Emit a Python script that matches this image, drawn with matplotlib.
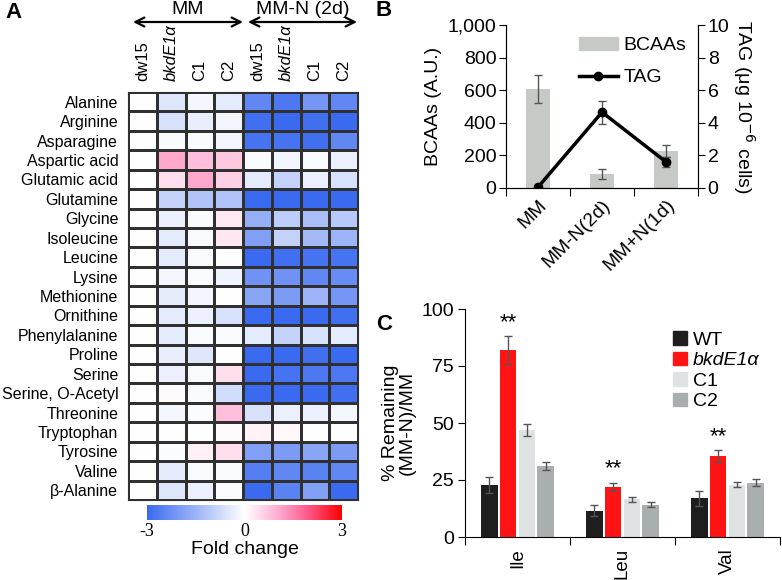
import numpy as np
import matplotlib.pyplot as plt
from matplotlib.colors import LinearSegmentedColormap
from matplotlib.patches import Patch
from matplotlib.lines import Line2D

plt.rcParams['font.family'] = ['Liberation Sans', 'DejaVu Sans']
plt.rcParams['font.size'] = 14

# ---- data ----
amino_acids = ['Alanine', 'Arginine', 'Asparagine', 'Aspartic acid', 'Glutamic acid',
               'Glutamine', 'Glycine', 'Isoleucine', 'Leucine', 'Lysine', 'Methionine',
               'Ornithine', 'Phenylalanine', 'Proline', 'Serine', 'Serine, O-Acetyl',
               'Threonine', 'Tryptophan', 'Tyrosine', 'Valine', 'β-Alanine']
strains = ['dw15', 'bkdE1α', 'C1', 'C2', 'dw15', 'bkdE1α', 'C1', 'C2']
# fold change, MM (4 cols) then MM-N 2d (4 cols)
fold_change = [
    [0, -0.5, -0.15, -0.4, -2.4, -2.7, -2.1, -2.4],
    [0, -0.6, -0.35, -0.2, -2.9, -3.0, -2.9, -3.0],
    [0, -0.1, -0.1, -0.2, -2.8, -2.8, -2.9, -2.4],
    [0, 1.1, 0.8, 0.7, -0.1, -0.2, -0.1, -0.3],
    [0, 0.4, 1.1, 0.6, -0.4, -0.9, -0.3, -0.6],
    [0, -0.9, -1.2, -1.2, -3.0, -3.0, -3.0, -3.0],
    [0, -0.3, -0.1, 0.3, -1.6, -1.0, -1.3, -1.1],
    [0, -0.4, -0.1, 0.3, -1.9, -0.9, -1.4, -1.5],
    [0, -0.4, -0.1, 0.0, -3.0, -2.9, -2.8, -2.8],
    [0, -0.15, -0.1, -0.25, -2.2, -2.2, -2.4, -2.3],
    [0, -0.4, -0.2, 0.0, -1.8, -2.0, -1.5, -2.1],
    [0, -0.4, -0.3, -0.6, -3.0, -3.0, -3.0, -2.9],
    [0, -0.4, -0.1, -0.1, -0.4, -0.9, -0.6, -0.4],
    [0, -0.35, -0.5, 0.0, -3.0, -3.0, -2.9, -3.0],
    [0, -0.3, -0.1, 0.4, -3.0, -2.8, -2.7, -2.7],
    [0, 0.05, -0.1, -0.7, -3.0, -3.0, -3.0, -2.9],
    [0, -0.15, -0.05, 0.8, -0.6, -0.3, -0.3, -0.15],
    [0, 0.0, 0.0, 0.05, 0.15, 0.1, 0.0, 0.0],
    [0, -0.05, 0.2, 0.4, -1.9, -2.0, -1.8, -2.0],
    [0, -0.4, -0.1, -0.1, -2.6, -2.4, -2.5, -2.4],
    [0, -0.5, -0.3, -0.05, -3.0, -2.5, -1.9, -3.0],
]

conditions = ['MM', 'MM-N(2d)', 'MM+N(1d)']
bcaa = [608, 88, 228]
bcaa_err = [88, 30, 37]
tag = [0.05, 4.65, 1.6]
tag_err = [0.0, 0.7, 0.3]

amino_c = ['Ile', 'Leu', 'Val']
lines_c = ['WT', 'bkdE1α', 'C1', 'C2']
remaining = {
    'WT': [23, 11.5, 17],
    'bkdE1α': [82, 22, 35.5],
    'C1': [47, 16.5, 23],
    'C2': [31, 14.2, 23.8],
}
remaining_err = {
    'WT': [3.5, 2.5, 3.2],
    'bkdE1α': [6, 1.8, 2.5],
    'C1': [2.5, 1.2, 1.0],
    'C2': [1.8, 1.0, 1.5],
}
signif = [True, True, True]

W, H = 782, 580
fig = plt.figure(figsize=(W / 100, H / 100), dpi=100)


def px_axes(x0, y0, x1, y1):
    # pixel box (top-left origin) -> figure axes
    return fig.add_axes([x0 / W, 1 - y1 / H, (x1 - x0) / W, (y1 - y0) / H])


# ---- A: heatmap ----
cmap = LinearSegmentedColormap.from_list(
    'fc', [(0, '#3a6af0'), (0.5, '#ffffff'), (0.66, '#ffb3d6'), (0.82, '#ff5c8f'), (1, '#ff0000')])
ax_a = px_axes(128, 92, 358, 500)
data = np.array(fold_change)
mesh = ax_a.pcolormesh(data, cmap=cmap, vmin=-3, vmax=3, edgecolors='#303030', linewidth=1)
ax_a.set_xlim(0, len(strains))
ax_a.set_ylim(len(amino_acids), 0)
ax_a.set_yticks(np.arange(len(amino_acids)) + 0.5)
ax_a.set_yticklabels(amino_acids, fontsize=11.5)
ax_a.set_xticks([])
ax_a.tick_params(axis='y', length=0, pad=7)
for s in ax_a.spines.values():
    s.set_color('#303030')
for i, name in enumerate(strains):
    style = 'italic' if name.startswith('bkd') else 'normal'
    ax_a.text(i + 0.5, -0.55, name, rotation=90, ha='center', va='bottom',
              fontsize=12, style=style)

# arrows with group labels
for x0, x1, label in [(133, 243, 'MM'), (248, 357, 'MM-N (2d)')]:
    plt.annotate('', xy=(x1 / W, 1 - 22 / H), xytext=(x0 / W, 1 - 22 / H),
                 xycoords='figure fraction',
                 arrowprops=dict(arrowstyle='<->', lw=1.6, color='black',
                                 mutation_scale=16, shrinkA=0, shrinkB=0))
    fig.text((x0 + x1) / 2 / W, 1 - 9 / H, label, ha='center', va='center', fontsize=14)

cax = px_axes(147, 505, 342, 520)
cb = fig.colorbar(mesh, cax=cax, orientation='horizontal', ticks=[-3, 0, 3])
cb.outline.set_visible(False)
cb.ax.tick_params(length=0, pad=2)
cb.ax.set_xticklabels(['-3', '0', '3'])
for t in cb.ax.get_xticklabels():
    t.set_family('Liberation Serif')
    t.set_fontsize(13)
cb.set_label('Fold change', fontsize=14, labelpad=1)

fig.text(14 / W, 1 - 12 / H, 'A', fontsize=16, fontweight='bold', ha='center', va='center')

# ---- B: BCAAs and TAG ----
ax_b = px_axes(506, 25, 698, 188)
xb = np.arange(len(conditions))
ax_b.bar(xb, bcaa, width=0.39, color='#c5cac7', yerr=bcaa_err,
         error_kw=dict(ecolor='#555555', capsize=3, elinewidth=1, capthick=1), zorder=1)
ax_b.set_ylim(0, 1000)
ax_b.set_xlim(-0.5, 2.5)
ax_b.set_yticks([0, 200, 400, 600, 800, 1000])
ax_b.set_yticklabels(['0', '200', '400', '600', '800', '1,000'])
ax_b.set_ylabel('BCAAs (A.U.)', labelpad=4)
ax_b.set_xticks([-0.5, 0.5, 1.5, 2.5])
ax_b.set_xticklabels([])
ax_b.set_xticks(xb, minor=True)
ax_b.set_xticklabels(conditions, minor=True, rotation=45, ha='right', rotation_mode='anchor')
ax_b.tick_params(axis='x', which='major', length=6, direction='out')
ax_b.tick_params(axis='x', which='minor', length=0, pad=6)
ax_b.tick_params(axis='y', length=5, direction='out', pad=2)
ax_b.spines['top'].set_visible(False)

ax_b2 = ax_b.twinx()
ax_b2.errorbar(xb, tag, yerr=tag_err, color='black', lw=2.5, marker='o', markersize=6,
               ecolor='#555555', elinewidth=1, capsize=3, capthick=1, zorder=3)
ax_b2.set_ylim(0, 10)
ax_b2.set_yticks([0, 2, 4, 6, 8, 10])
ax_b2.tick_params(axis='y', length=5, direction='out', pad=2)
ax_b2.spines['top'].set_visible(False)
ax_b2.set_ylabel('TAG (μg 10$^{-6}$ cells)', rotation=270, labelpad=20)

handles_b = [Patch(color='#c5cac7'),
             Line2D([], [], color='black', lw=2.5, marker='o', markersize=6)]
ax_b2.legend(handles_b, ['BCAAs', 'TAG'], loc='upper right', frameon=False,
             bbox_to_anchor=(1.0, 1.0), handlelength=2.0, handletextpad=0.3,
             labelspacing=0.75, borderaxespad=0.2, fontsize=14)

fig.text(384 / W, 1 - 10 / H, 'B', fontsize=16, fontweight='bold', ha='center', va='center')

# ---- C: % remaining ----
ax_c = px_axes(465, 309, 780, 537)
colors_c = {'WT': '#1e1e1e', 'bkdE1α': '#ff1414', 'C1': '#dfe2e2', 'C2': '#a9aeae'}
xc = np.arange(len(amino_c))
pitch = 0.18
for j, ln in enumerate(lines_c):
    off = (j - 1.5) * pitch
    ax_c.bar(xc + off, remaining[ln], width=0.16, color=colors_c[ln], label=ln,
             yerr=remaining_err[ln],
             error_kw=dict(ecolor='#555555', capsize=3, elinewidth=1, capthick=1))
for i, s in enumerate(signif):
    if s:
        top = remaining['bkdE1α'][i] + remaining_err['bkdE1α'][i]
        ax_c.text(xc[i] - 0.5 * pitch, top + 1.5, '**', ha='center', va='bottom', fontsize=16)
ax_c.set_ylim(0, 100)
ax_c.set_xlim(-0.5, 2.5)
ax_c.set_yticks([0, 25, 50, 75, 100])
ax_c.set_xticks([-0.5, 0.5, 1.5, 2.5])
ax_c.set_xticklabels([])
ax_c.set_xticks(xc, minor=True)
ax_c.set_xticklabels(amino_c, minor=True, rotation=90, va='top', fontsize=13.5)
ax_c.tick_params(axis='x', which='major', length=6, direction='out')
ax_c.tick_params(axis='x', which='minor', length=0, pad=8)
ax_c.tick_params(axis='y', length=5, direction='out', pad=3)
ax_c.spines['top'].set_visible(False)
ax_c.spines['right'].set_visible(False)
ax_c.set_ylabel('% Remaining\n(MM-N)/MM', linespacing=1.0, labelpad=4)

leg_handles = [Patch(color=colors_c[ln]) for ln in lines_c]
leg = ax_c.legend(leg_handles, lines_c, loc='upper right', frameon=False,
                  bbox_to_anchor=(0.99, 0.98), handlelength=0.7, handleheight=0.7,
                  handletextpad=0.3, labelspacing=0.15, fontsize=14)
for t in leg.get_texts():
    if t.get_text().startswith('bkd'):
        t.set_style('italic')

fig.text(384 / W, 1 - 325 / H, 'C', fontsize=16, fontweight='bold', ha='center', va='center')

fig.savefig('out.png', dpi=100)
